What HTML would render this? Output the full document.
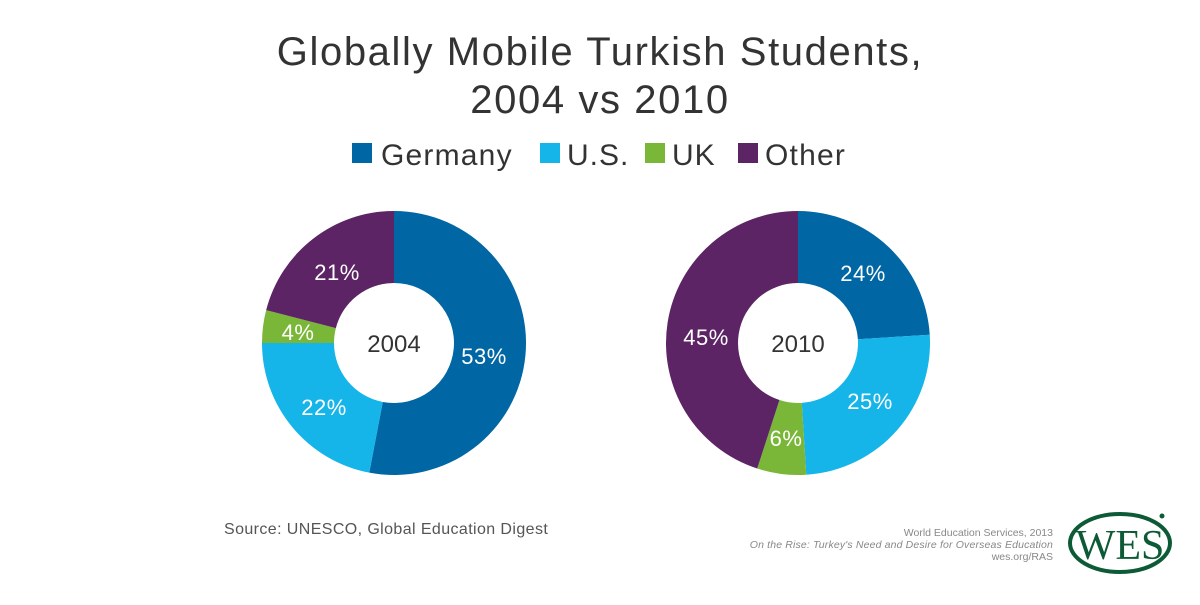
<!DOCTYPE html>
<html><head><meta charset="utf-8"><style>
body{margin:0;width:1200px;height:600px;background:#fff;overflow:hidden;font-family:"Liberation Sans",sans-serif;}
</style></head><body>
<svg id="s" width="1200" height="600" xmlns="http://www.w3.org/2000/svg" font-family="Liberation Sans, sans-serif">
<text x="600" y="65" text-anchor="middle" font-size="40" letter-spacing="1.6" fill="#333">Globally Mobile Turkish Students,</text>
<text x="600" y="113" text-anchor="middle" font-size="40" letter-spacing="1.6" fill="#333">2004 vs 2010</text>
<rect x="352" y="143" width="20" height="20" fill="#0066a4"/><text x="381" y="165" font-size="30" letter-spacing="1.2" fill="#333">Germany</text>
<rect x="540" y="143" width="20" height="20" fill="#15b4e9"/><text x="567" y="165" font-size="30" letter-spacing="1" fill="#333">U.S.</text>
<rect x="645" y="143" width="20" height="20" fill="#7ab738"/><text x="672" y="165" font-size="30" letter-spacing="1" fill="#333">UK</text>
<rect x="738" y="143" width="20" height="20" fill="#5c2464"/><text x="765" y="165" font-size="30" letter-spacing="1.2" fill="#333">Other</text>
<g id="p1"></g><g id="p2"></g>
<g font-size="22" fill="#fff" text-anchor="middle" letter-spacing="0.5">
<text x="484" y="364">53%</text><text x="324" y="415">22%</text><text x="298" y="340">4%</text><text x="337" y="280">21%</text>
<text x="863" y="281">24%</text><text x="870" y="409">25%</text><text x="786" y="446">6%</text><text x="706" y="345">45%</text>
</g>
<text x="394" y="352" text-anchor="middle" font-size="24" fill="#333">2004</text>
<text x="798" y="352" text-anchor="middle" font-size="24" fill="#333">2010</text>
<text x="224" y="534" font-size="16" letter-spacing="0.4" fill="#555">Source: UNESCO, Global Education Digest</text>
<g font-size="10.5" fill="#888" text-anchor="end">
<text x="1053" y="536">World Education Services, 2013</text>
<text x="1053" y="548" font-style="italic" letter-spacing="0.15">On the Rise: Turkey's Need and Desire for Overseas Education</text>
<text x="1053" y="560">wes.org/RAS</text>
</g>
<ellipse cx="1120" cy="543" rx="50" ry="29" fill="none" stroke="#0d5a36" stroke-width="4"/>
<text x="1120" y="559" text-anchor="middle" font-family="Liberation Serif, serif" font-size="42" fill="#0d5a36">WES</text>
<circle cx="1162" cy="516" r="2.5" fill="#0d5a36"/>
</svg>
<script>
function pie(id,cx,cy,vals,cols){var g=document.getElementById(id),R=132,r=60,a=0,h='';
for(var i=0;i<vals.length;i++){var b=a+vals[i]*3.6;
function p(ang,rad){var t=(ang-90)*Math.PI/180;return (cx+rad*Math.cos(t)).toFixed(2)+','+(cy+rad*Math.sin(t)).toFixed(2);}
var l=(b-a)>180?1:0;
h+='<path fill="'+cols[i]+'" d="M'+p(a,R)+' A'+R+','+R+' 0 '+l+' 1 '+p(b,R)+' L'+p(b,r)+' A'+r+','+r+' 0 '+l+' 0 '+p(a,r)+' Z"/>';a=b;}
g.innerHTML=h;}
var c=['#0066a4','#15b4e9','#7ab738','#5c2464'];
pie('p1',394,343,[53,22,4,21],c);pie('p2',798,343,[24,25,6,45],c);
</script>
</body></html>
